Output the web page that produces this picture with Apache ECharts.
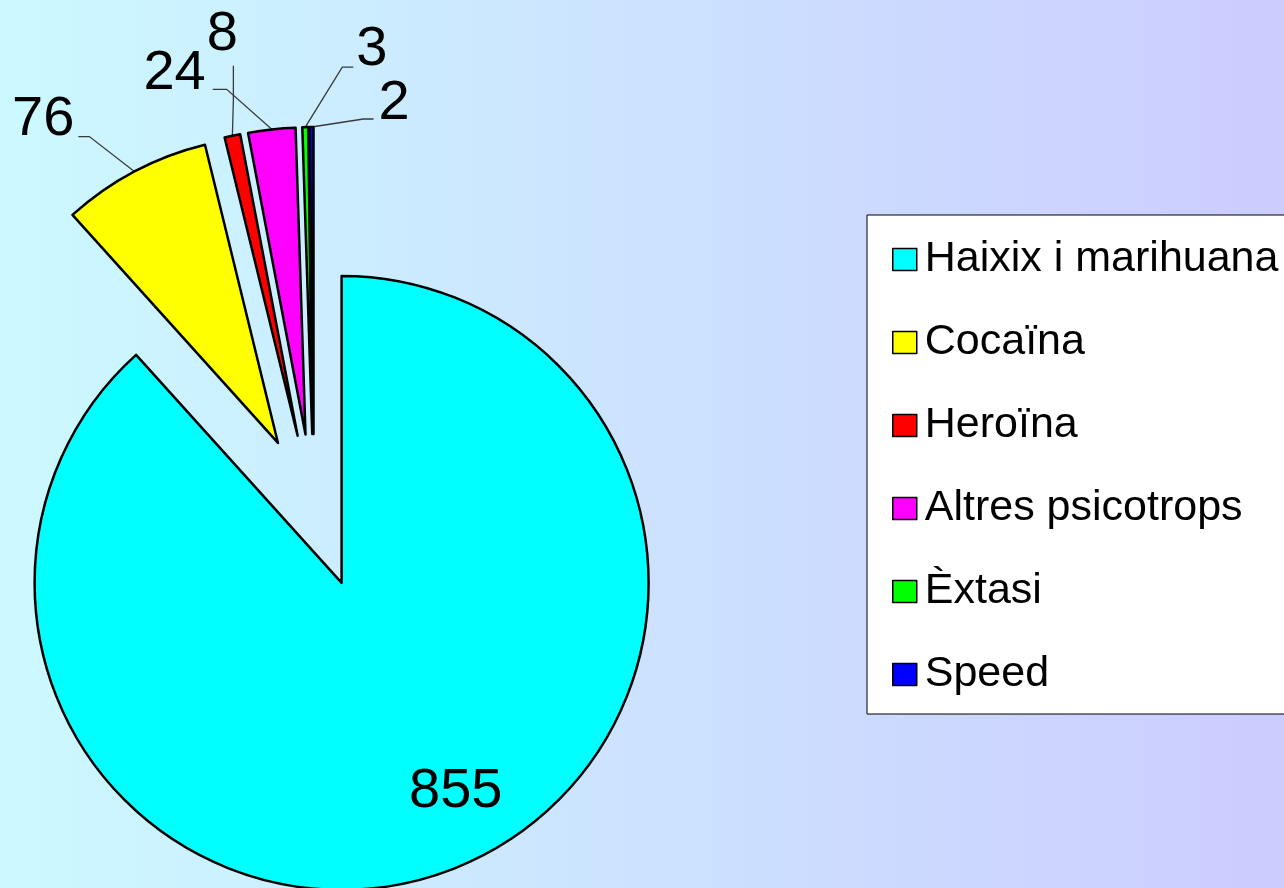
<!DOCTYPE html>
<html>
<head>
<meta charset="utf-8">
<script src="https://cdn.jsdelivr.net/npm/echarts@6/dist/echarts.min.js"></script>
<style>
  html, body { margin: 0; padding: 0; }
  #chart { width: 1284px; height: 888px; }
</style>
</head>
<body>
<div id="chart"></div>
<script>
// ---- data ----
const categories = ['Haixix i marihuana', 'Cocaïna', 'Heroïna', 'Altres psicotrops', 'Èxtasi', 'Speed'];
const values = [855, 76, 8, 24, 3, 2];

// ---- styles ----
const colors = ['#00ffff', '#ffff00', '#ff0000', '#ff00ff', '#00ff00', '#0000ff'];
const PIE_CX = 314, PIE_CY = 511, PIE_R = 307, EXPLODE = 77;
const FONT = "'Liberation Sans', Arial, sans-serif";
// leader-line geometry relative to the slice's arc midpoint, text placement relative to line end
const labelGuides = [
  { inside: true, dx: 58, dy: 63 },
  { bend: [-45, -35], end: [-56, -35], text: [-4, -17], align: 'right' },
  { bend: [1, -35], end: [1, -70], text: [-11, -31], align: 'center' },
  { bend: [-45, -40], end: [-59, -40], text: [-7, -16], align: 'right' },
  { bend: [37, -60], end: [48, -60], text: [3, -18], align: 'left' },
  { bend: [52, -8], end: [62, -8], text: [5, -15], align: 'left' }
];

const total = values.reduce((a, b) => a + b, 0);
let cum = 0;
const mids = values.map(v => {
  const mid = (cum + v / 2) / total * 2 * Math.PI;
  cum += v;
  return mid;
});
const centers = mids.map(m => [PIE_CX + EXPLODE * Math.sin(m), PIE_CY - EXPLODE * Math.cos(m)]);

const series = values.map((_, i) => ({
  type: 'pie',
  center: centers[i],
  radius: PIE_R,
  startAngle: 90,
  clockwise: true,
  silent: true,
  animation: false,
  avoidLabelOverlap: false,
  emphasis: { disabled: true },
  label: {
    position: labelGuides[i].inside ? 'inside' : 'outside',
    formatter: '{c}',
    fontSize: 56,
    fontFamily: FONT,
    color: '#000'
  },
  labelLine: { show: true, length: 10, length2: 10, lineStyle: { color: '#3a3a3a', width: 1.3 } },
  labelLayout: function (params) {
    if (params.dataIndex !== i) return {};
    const g = labelGuides[i];
    if (g.inside) {
      const r = params.labelRect;
      return { x: r.x + r.width / 2 + g.dx, y: r.y + r.height / 2 + g.dy, align: 'center', verticalAlign: 'middle' };
    }
    const s = [centers[i][0] + PIE_R * Math.sin(mids[i]), centers[i][1] - PIE_R * Math.cos(mids[i])];
    const b = [s[0] + g.bend[0], s[1] + g.bend[1]];
    const e = [s[0] + g.end[0], s[1] + g.end[1]];
    return {
      x: e[0] + g.text[0], y: e[1] + g.text[1],
      align: g.align, verticalAlign: 'middle',
      labelLinePoints: [s, b, e]
    };
  },
  data: values.map((v, j) => ({
    value: v,
    name: categories[j],
    itemStyle: j === i
      ? { color: colors[j], borderColor: '#000', borderWidth: 2.5 }
      : { color: 'rgba(0,0,0,0)', borderWidth: 0 },
    label: { show: j === i },
    labelLine: { show: j === i && !labelGuides[i].inside }
  }))
}));

const chart = echarts.init(document.getElementById('chart'), null, { renderer: 'canvas' });
chart.setOption({
  animation: false,
  backgroundColor: {
    type: 'linear', x: 0, y: 0, x2: 1, y2: 0,
    colorStops: [{ offset: 0, color: '#ccf9ff' }, { offset: 1, color: '#ccccff' }]
  },
  legend: {
    orient: 'vertical',
    left: 867,
    top: 215,
    padding: [23, 40, 18, 25],
    backgroundColor: '#ffffff',
    borderColor: '#000000',
    borderWidth: 1,
    borderRadius: 0,
    icon: 'rect',
    itemWidth: 24,
    itemHeight: 22,
    itemGap: 40,
    selectedMode: false,
    textStyle: { fontSize: 43, lineHeight: 43, fontFamily: FONT, color: '#000', padding: [0, 0, 0, 3] },
    data: categories.map((n, i) => ({
      name: n,
      itemStyle: { color: colors[i], borderColor: '#000', borderWidth: 1.5 }
    }))
  },
  series: series
});
</script>
</body>
</html>
